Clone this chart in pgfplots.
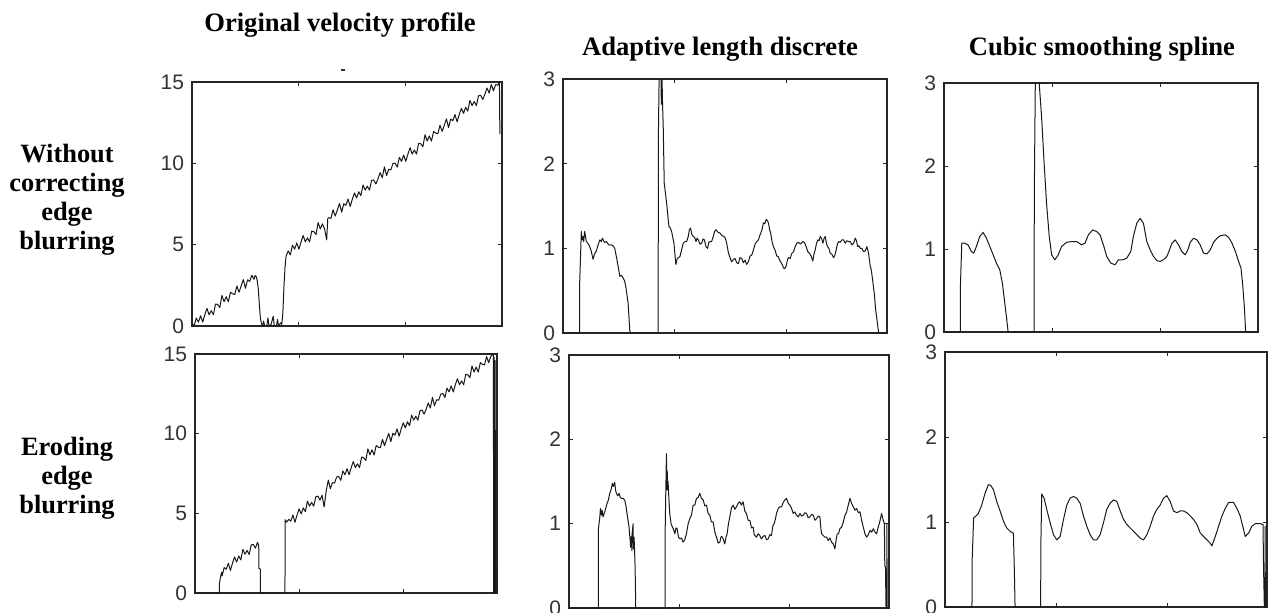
\documentclass[border=0pt]{standalone}
\usepackage{fontspec}
\setmainfont{Liberation Serif}
\newfontfamily\arial{Liberation Sans}
\usepackage{pgfplots}
\pgfplotsset{compat=1.18}
\pgfplotsset{
  panel/.style={anchor=south west, scale only axis,
    xmin=0, xmax=290, ymin=0,
    xtick={100,200}, xticklabels={},
    axis line style={black!85, line width=0.6pt},
    major tick style={black!85, line width=0.5pt},
    major tick length=2pt, tick align=inside,
    tick label style={font=\arial\fontsize{10.5}{12}\selectfont, text=black!80},
    /pgf/number format/assume math mode=true,
    yticklabel style={xshift=-0.5pt},
  },
  vel/.style={panel, ymax=15, ytick={0,5,10,15}},
  rat/.style={panel, ymax=3, ytick={0,1,2,3}},
  curve/.style={black!90, line width=0.5pt, line join=round},
}
\begin{document}
\begin{tikzpicture}
\useasboundingbox (0,0) rectangle (634pt,306pt);

% column titles and row labels
\node[font=\bfseries\fontsize{13.3}{15}\selectfont, anchor=base] at (170pt,290pt) {Original velocity profile};
\node[font=\bfseries\fontsize{13.3}{15}\selectfont, anchor=base] at (360pt,278pt) {Adaptive length discrete};
\node[font=\bfseries\fontsize{13.3}{15}\selectfont, anchor=base] at (551pt,278pt) {Cubic smoothing spline};
\node[font=\bfseries\fontsize{13.2}{14.5}\selectfont, align=center] at (33.5pt,206pt) {Without\\correcting\\edge\\blurring};
\node[font=\bfseries\fontsize{13.2}{14.5}\selectfont, align=center] at (33.5pt,67pt) {Eroding\\edge\\blurring};
\draw[black!80, line width=0.6pt] (170.3pt,271pt) -- (172.6pt,271pt);

% row 1, column 1
\begin{axis}[vel, at={(96pt,143pt)}, width=155pt, height=122pt]
\addplot[curve] coordinates {(0,0.14)(2,0.02)(4,0.49)(6,0.24)(8,0.63)(10,0.24)(12,0.69)(14,1.08)(16,0.69)(18,0.94)(20,0.69)(22,1.35)(24,1.32)(26,1.14)(28,1.88)(30,1.49)(32,1.80)(34,1.49)(36,2.08)(38,1.98)(40,1.94)(42,2.46)(44,2.08)(46,2.46)(48,2.85)(50,2.32)(52,2.84)(54,2.74)(56,3.12)(58,2.87)(59,3.1)(60,3.05)(61,2.8)(62,2.3)(63,1.3)(64,0.5)(65,0.15)(66,0)(67,0.3)(68,0)(70,0)(71,0.5)(72,0)(74,0.1)(76,0.6)(77,0)(79,0)(80,0.4)(81,0)(83,0.2)(84,0.1)(85,0.8)(86,2.4)(87,3.6)(88,4.3)(90,4.62)(92,4.37)(94,4.97)(96,4.72)(98,5.11)(100,4.72)(102,5.17)(104,5.56)(106,5.17)(108,5.42)(110,5.17)(112,5.83)(114,5.80)(116,5.62)(118,6.36)(120,5.97)(122,6.28)(124,5.97)(126,5.3)(127,6.6)(128,6.66)(130,6.62)(132,7.14)(134,6.76)(136,7.14)(138,7.53)(140,7.00)(142,7.52)(144,7.42)(146,7.80)(148,7.35)(150,7.80)(152,8.18)(154,7.87)(156,8.25)(158,8.01)(160,8.67)(162,8.35)(164,8.60)(166,8.35)(168,8.95)(170,8.98)(172,8.73)(174,9.05)(176,9.43)(178,9.12)(180,9.78)(182,9.25)(184,9.64)(186,9.60)(188,9.99)(190,10.02)(192,9.77)(194,10.37)(196,10.12)(198,10.51)(200,10.12)(202,10.57)(204,10.96)(206,10.57)(208,10.82)(210,10.57)(212,11.23)(214,11.20)(216,11.02)(218,11.76)(220,11.37)(222,11.68)(224,11.37)(226,11.96)(228,11.86)(230,11.82)(232,12.34)(234,11.96)(236,12.34)(238,12.73)(240,12.20)(242,12.72)(244,12.62)(246,13.00)(248,12.55)(250,13.00)(252,13.38)(254,13.07)(256,13.45)(258,13.21)(260,13.87)(262,13.55)(264,13.80)(266,13.55)(268,14.15)(270,14.18)(272,13.93)(274,14.25)(276,14.63)(278,14.32)(280,14.85)(282,14.45)(284,14.84)(286,14.80)(287,14.95)(287.6,15)(288,11.8)};
\end{axis}

% row 2, column 1
\begin{axis}[vel, at={(97.5pt,9.5pt)}, width=151pt, height=119.5pt]
\addplot[curve] coordinates {(0,0)(23.4,0)(23.5,0.6)(24.5,1.0)(25.6,1.3)(26,1.07)(28,1.60)(30,1.49)(32,1.87)(34,1.42)(36,1.87)(38,2.26)(40,1.94)(42,2.32)(44,2.08)(46,2.74)(48,2.43)(50,2.67)(52,2.42)(54,3.02)(56,3.05)(58,2.81)(60,3.17)(61.2,3.0)(61.3,1.55)(62.7,1.5)(62.8,0)(86.4,0)(86.5,4.6)(88,4.45)(90,4.62)(92,4.51)(94,4.90)(96,4.44)(98,4.90)(100,5.28)(102,4.96)(104,5.35)(106,5.10)(108,5.77)(110,5.45)(112,5.69)(114,5.45)(116,6.04)(118,6.08)(120,5.83)(122,6.14)(124,5.4)(126,6.41)(128,7.08)(130,6.55)(132,6.93)(134,6.90)(136,7.28)(138,7.32)(140,7.07)(142,7.66)(144,7.42)(146,7.80)(148,7.42)(150,7.87)(152,8.25)(154,7.87)(156,8.11)(158,7.87)(160,8.53)(162,8.49)(164,8.32)(166,9.05)(168,8.67)(170,8.98)(172,8.66)(174,9.26)(176,9.15)(178,9.12)(180,9.64)(182,9.25)(184,9.64)(186,10.02)(188,9.50)(190,10.02)(192,9.91)(194,10.30)(196,9.84)(198,10.30)(200,10.68)(202,10.36)(204,10.75)(206,10.50)(208,11.17)(210,10.85)(212,11.09)(214,10.85)(216,11.44)(218,11.48)(220,11.23)(222,11.54)(224,11.93)(226,11.61)(228,12.28)(230,11.75)(232,12.13)(234,12.10)(236,12.48)(238,12.52)(240,12.27)(242,12.86)(244,12.62)(246,13.00)(248,12.62)(250,13.07)(252,13.45)(254,13.07)(256,13.31)(258,13.07)(260,13.73)(262,13.69)(264,13.52)(266,14.25)(268,13.87)(270,14.18)(272,13.86)(274,14.46)(276,14.35)(278,14.32)(280,14.84)(282,14.45)(284,14.84)(286,15)(286.6,14.9)(286.7,0)(287.2,14.8)(287.7,0)(288.2,14.6)(288.6,0)(290,0)};
\end{axis}

% row 1, column 2
\begin{axis}[rat, at={(281.5pt,139.5pt)}, width=162pt, height=127pt]
\addplot[curve] coordinates {(0,0)(14.9,0)(14.95,0.6)(16.4,1.2)(17.0,1.1)(17.9,1.14)(18.5,1.08)(19.4,1.2)(20.9,1.08)(22.4,1.06)(23.9,1.02)(25.4,0.96)(26.9,0.87)(28.4,0.94)(29.9,0.97)(31.4,1.04)(33.0,1.1)(34.2,1.08)(35.3,1.12)(37.0,1.07)(38.9,1.08)(41.0,1.04)(43.3,1.04)(44.8,1.03)(46.3,1.0)(47.8,0.9)(49.3,0.79)(50.8,0.67)(52.3,0.68)(53.8,0.65)(55.0,0.62)(56.2,0.55)(58.3,0.35)(59.8,0.02)(60.7,0)(85.2,0)(85.3,2.25)(86.2,3.2)(87.5,3.3)(88.0,2.7)(88.5,3.1)(89.1,2.7)(89.7,2.44)(90.6,1.77)(92.7,1.54)(94.8,1.26)(96.0,1.24)(97.2,1.2)(99.3,1.06)(101.0,0.81)(102.0,0.87)(103.1,0.89)(104.6,0.90)(106.1,0.98)(107.6,1.06)(109.1,1.08)(110.6,1.08)(112.1,1.14)(113.1,1.22)(114.2,1.24)(115.4,1.16)(116.6,1.14)(117.8,1.13)(119.0,1.08)(120.0,1.12)(121.1,1.1)(122.6,1.05)(124.1,1.06)(125.3,1.11)(126.5,1.1)(128.0,1.02)(129.4,1.0)(130.5,1.07)(131.5,1.08)(133.0,1.08)(134.5,1.14)(135.7,1.2)(136.9,1.22)(138.7,1.19)(140.5,1.18)(142.3,1.15)(144.1,1.14)(145.3,1.12)(146.5,1.06)(148.0,0.95)(149.5,0.89)(151.0,0.84)(152.5,0.87)(154.0,0.88)(155.5,0.83)(157.0,0.82)(158.4,0.89)(159.9,0.88)(161.4,0.83)(162.9,0.86)(164.4,0.81)(165.9,0.84)(167.4,0.91)(168.9,0.92)(170.4,0.98)(171.9,1.05)(173.4,1.08)(174.9,1.1)(176.4,1.16)(177.9,1.21)(179.4,1.3)(180.6,1.29)(181.8,1.34)(182.9,1.33)(183.9,1.3)(184.9,1.22)(185.9,1.18)(187.1,1.08)(188.3,1.02)(189.8,0.98)(191.3,0.91)(192.8,0.9)(194.3,0.85)(195.8,0.82)(197.3,0.77)(198.5,0.76)(199.7,0.79)(200.8,0.86)(201.8,0.89)(203.3,0.88)(204.8,0.94)(206.3,0.96)(207.8,1.02)(209.3,1.06)(210.8,1.07)(212.7,1.05)(214.6,1.08)(216.1,1.07)(217.6,1.02)(219.1,0.96)(220.6,0.94)(222.1,0.91)(223.6,0.85)(224.6,0.93)(225.7,0.98)(226.9,1.06)(228.1,1.1)(229.2,1.09)(230.2,1.14)(231.4,1.12)(232.6,1.06)(233.7,1.12)(234.7,1.14)(235.8,1.06)(236.8,1.02)(238.0,1.0)(239.2,0.94)(240.7,0.93)(242.2,0.89)(243.4,0.92)(244.5,0.98)(245.6,1.05)(246.6,1.08)(248.1,1.07)(249.6,1.1)(251.1,1.1)(252.6,1.06)(254.1,1.09)(255.6,1.08)(257.1,1.08)(258.6,1.04)(260.1,1.06)(261.6,1.12)(262.7,1.09)(263.7,1.02)(264.9,1.03)(266.1,1.0)(267.6,1.0)(269.1,0.96)(270.6,0.97)(272.0,1.02)(272.8,0.98)(273.5,0.94)(275.0,0.79)(276.0,0.74)(277.1,0.63)(278.6,0.47)(279.8,0.28)(281.0,0.16)(282.5,0)(290,0)};
\end{axis}

% row 2, column 2
\begin{axis}[rat, at={(284.5pt,2pt)}, width=160pt, height=126.5pt]
\addplot[curve] coordinates {(0,0)(26.6,0)(26.65,0.94)(27.8,1.06)(28.5,1.18)(29.3,1.1)(30.0,1.16)(30.8,1.08)(32.4,1.14)(34.5,1.24)(35.7,1.28)(36.9,1.36)(38.1,1.40)(39.3,1.48)(40.2,1.44)(41.4,1.49)(42.2,1.4)(42.9,1.36)(44.2,1.33)(45.4,1.36)(46.5,1.31)(47.5,1.3)(49.0,1.30)(50.5,1.28)(51.5,1.22)(52.6,1.12)(54.4,0.96)(55.9,0.72)(56.5,0.85)(57.0,0.68)(57.2,0.88)(58.1,1.0)(58.3,0.7)(59.0,0.84)(59.9,0.49)(60.5,0)(87.1,0)(87.15,0.93)(88.3,1.83)(88.6,1.4)(89.0,1.63)(89.3,1.4)(89.8,1.5)(90.5,1.3)(91.3,1.12)(92.5,1.0)(93.7,0.96)(94.8,0.93)(95.9,0.88)(97.0,0.95)(98.0,0.94)(99.2,0.84)(100.4,0.82)(101.9,0.83)(103.4,0.78)(104.9,0.81)(106.4,0.88)(108.0,1.0)(109.5,1.06)(111.0,1.10)(112.5,1.22)(114.0,1.22)(115.5,1.3)(117.0,1.31)(118.5,1.36)(120.0,1.3)(121.6,1.28)(123.1,1.21)(124.6,1.22)(126.1,1.12)(127.6,1.1)(129.1,1.02)(130.6,1.02)(132.2,0.9)(133.7,0.84)(135.2,0.77)(136.7,0.78)(137.9,0.85)(139.1,0.84)(140.2,0.8)(141.2,0.76)(142.3,0.84)(143.3,0.88)(144.5,1.0)(145.7,1.08)(147.3,1.19)(148.8,1.22)(150.3,1.17)(151.8,1.2)(153.3,1.24)(154.8,1.26)(156.3,1.22)(157.8,1.26)(159.3,1.15)(160.8,1.12)(162.4,1.04)(163.9,1.04)(165.4,0.95)(166.9,0.96)(167.7,0.88)(168.4,0.86)(169.9,0.84)(171.4,0.88)(172.9,0.86)(174.4,0.82)(176.0,0.85)(177.5,0.86)(179.0,0.81)(180.5,0.82)(182.0,0.87)(183.5,0.86)(184.7,0.97)(185.9,1.0)(187.0,1.05)(188.0,1.12)(189.6,1.18)(191.1,1.2)(192.6,1.2)(194.1,1.25)(195.6,1.28)(197.1,1.3)(198.7,1.24)(200.2,1.22)(201.7,1.18)(203.2,1.12)(204.7,1.14)(206.2,1.1)(207.8,1.08)(209.3,1.12)(210.8,1.09)(212.3,1.1)(213.8,1.13)(215.3,1.12)(216.8,1.07)(218.3,1.08)(219.9,1.11)(221.4,1.1)(222.9,1.04)(224.4,1.06)(225.9,1.09)(227.4,1.08)(228.2,0.95)(228.9,0.88)(230.4,0.86)(231.9,0.84)(233.5,0.84)(235.0,0.8)(236.5,0.83)(238.0,0.78)(239.5,0.76)(241.0,0.7)(242.0,0.8)(243.1,0.88)(244.3,0.88)(245.5,0.94)(247.1,0.96)(248.6,1.02)(250.1,1.1)(251.6,1.14)(253.1,1.22)(254.6,1.3)(256.1,1.24)(257.6,1.2)(259.2,1.16)(260.7,1.18)(262.2,1.13)(263.7,1.14)(265.2,1.04)(266.7,0.96)(268.2,0.88)(269.7,0.84)(271.3,0.87)(272.8,0.92)(274.3,0.9)(275.8,0.94)(277.3,0.9)(278.8,0.88)(280.0,0.95)(281.2,1.0)(282.3,1.06)(283.3,1.12)(284.0,1.08)(284.8,1.04)(285.8,1.0)(286.2,0.49)(286.8,0.49)(287.3,0)(288.0,0)(288.1,1.0)(288.3,0)(290,0)};
\end{axis}

% row 1, column 3
\begin{axis}[rat, at={(472pt,140pt)}, width=157pt, height=124.5pt]
\addplot[curve] coordinates {(0,0)(15.1,0)(15.15,0.55)(16.4,1.07)(19.1,1.07)(22.2,1.05)(25.3,0.97)(27.5,0.95)(29.9,1.03)(33.0,1.15)(36.1,1.2)(39.2,1.13)(42.3,1.03)(45.4,0.93)(48.4,0.83)(51.5,0.75)(54.0,0.58)(56.2,0.34)(57.7,0.18)(59.2,0)(83.3,0)(83.35,1.6)(84.6,3.4)(86.5,3.4)(87.9,3.0)(90.1,2.6)(92.3,2.07)(94.7,1.55)(97.2,1.15)(99.4,0.93)(102.4,0.87)(105.5,0.93)(108.6,1.03)(113.2,1.08)(117.9,1.09)(122.5,1.09)(127.1,1.05)(130.2,1.07)(133.3,1.17)(137.3,1.23)(141.0,1.21)(144.1,1.17)(147.2,1.05)(150.3,0.91)(154.0,0.83)(158.0,0.81)(161.1,0.87)(165.1,0.87)(168.8,0.89)(172.5,0.97)(174.9,1.15)(178.0,1.31)(181.1,1.37)(184.2,1.31)(187.3,1.09)(190.4,0.99)(193.5,0.91)(196.6,0.86)(199.6,0.85)(202.7,0.87)(205.8,0.91)(208.3,0.99)(210.5,1.07)(213.5,1.11)(216.6,1.05)(219.7,0.97)(222.8,0.93)(225.2,0.99)(227.4,1.08)(230.5,1.13)(233.6,1.11)(236.6,1.05)(239.7,0.95)(242.8,0.94)(245.9,0.99)(249.0,1.08)(252.1,1.13)(255.2,1.16)(259.8,1.17)(262.9,1.14)(266.0,1.07)(269.1,0.97)(272.1,0.85)(274.3,0.77)(275.8,0.58)(277.4,0.3)(278.6,0)(290,0)};
\end{axis}

% row 2, column 3
\begin{axis}[rat, at={(472.5pt,2.5pt)}, width=161pt, height=127.5pt]
\addplot[curve] coordinates {(0,0)(24.3,0)(24.35,0.51)(25.8,1.05)(27.9,1.07)(30.0,1.1)(33.1,1.2)(36.1,1.34)(39.1,1.44)(41.2,1.43)(43.6,1.38)(46.6,1.24)(49.6,1.13)(52.6,1.01)(55.6,0.93)(58.6,0.89)(61.6,0.87)(62.5,0.4)(63.1,0)(86.2,0)(86.25,0.67)(87.1,1.33)(89.2,1.28)(91.6,1.15)(94.7,0.99)(97.7,0.85)(100.7,0.79)(103.7,0.83)(106.7,1.03)(109.7,1.2)(112.7,1.28)(115.7,1.3)(118.7,1.28)(121.7,1.22)(124.7,1.07)(127.7,0.95)(130.7,0.85)(133.7,0.79)(136.7,0.79)(139.7,0.85)(142.7,0.99)(145.7,1.15)(148.7,1.22)(151.7,1.26)(154.8,1.24)(157.8,1.13)(160.8,1.03)(163.8,0.97)(166.8,0.93)(169.8,0.89)(172.8,0.85)(175.8,0.81)(178.8,0.79)(181.8,0.85)(184.8,0.95)(187.8,1.07)(190.8,1.15)(193.8,1.2)(196.8,1.28)(199.8,1.31)(202.8,1.24)(205.8,1.13)(208.8,1.11)(211.8,1.13)(214.8,1.13)(217.8,1.11)(220.9,1.07)(223.9,1.03)(226.9,0.97)(229.9,0.87)(232.9,0.83)(235.9,0.79)(238.9,0.75)(240.4,0.72)(243.4,0.83)(246.4,0.95)(249.4,1.07)(252.4,1.16)(255.4,1.23)(259.9,1.23)(262.9,1.16)(265.9,1.07)(268.9,0.91)(270.4,0.83)(273.4,0.87)(276.4,0.95)(279.4,0.98)(284.0,0.98)(286.4,0.97)(286.9,0.46)(287.6,0)(288.2,0)(288.3,0.95)(288.5,0)(290,0)};
\end{axis}
\end{tikzpicture}
\end{document}
